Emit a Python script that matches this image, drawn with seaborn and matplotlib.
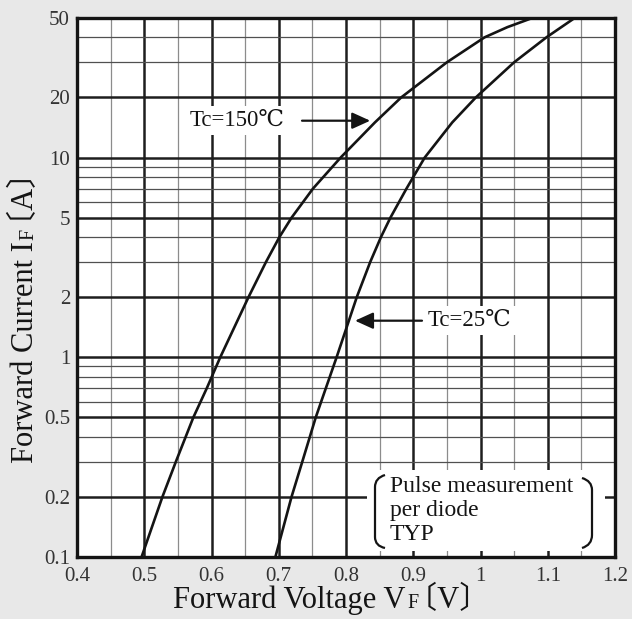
import numpy as np
import pandas as pd
import matplotlib
matplotlib.use("Agg")
import matplotlib.pyplot as plt
import seaborn as sns
from matplotlib.path import Path
from matplotlib.patches import PathPatch, Rectangle
from matplotlib.ticker import NullFormatter

# --- data ---
current_150 = [0.1, 0.2, 0.3, 0.5, 0.7, 1, 2, 3, 4, 5, 7, 10, 15, 20, 30, 40, 45, 50]
voltage_150 = [0.496, 0.527, 0.547, 0.573, 0.593, 0.613, 0.655, 0.681, 0.701, 0.719,
               0.751, 0.792, 0.843, 0.882, 0.950, 1.006, 1.040, 1.077]

current_25 = [0.1, 0.2, 0.3, 0.5, 0.7, 1, 2, 3, 4, 5, 7, 10, 15, 20, 30, 40, 50]
voltage_25 = [0.695, 0.719, 0.735, 0.755, 0.770, 0.786, 0.816, 0.836, 0.852, 0.866,
              0.890, 0.917, 0.958, 0.993, 1.050, 1.098, 1.140]

x_major = [0.4, 0.5, 0.6, 0.7, 0.8, 0.9, 1.0, 1.1, 1.2]
x_major_labels = ["0.4", "0.5", "0.6", "0.7", "0.8", "0.9", "1", "1.1", "1.2"]
x_minor = [0.45, 0.55, 0.65, 0.75, 0.85, 0.95, 1.05, 1.15]

y_major = [0.1, 0.2, 0.5, 1, 2, 5, 10, 20, 50]
y_major_labels = ["0.1", "0.2", "0.5", "1", "2", "5", "10", "20", "50"]
y_minor = [0.3, 0.4, 0.6, 0.7, 0.8, 0.9, 3, 4, 6, 7, 8, 9, 30, 40]

label_150 = "Tc=150℃"
label_25 = "Tc=25℃"
note_text = "Pulse measurement\nper diode\nTYP"

# --- style ---
SERIF = ["Liberation Serif", "DejaVu Serif", "Noto Sans CJK JP"]
INK = "#141414"
W, H = 632, 619

sns.set_style("white")
plt.rcParams["font.family"] = SERIF


def px_to_axes(px, py):
    # reference-image pixel -> axes fraction
    return (px - 77) / 538, (557 - py) / 539


def draw_label(fig, x0, y0, pieces, vertical=False):
    """Write a label made of pieces of different sizes, side by side.
    x0, y0 are figure pixels (from bottom-left) of the start of the baseline."""
    renderer = fig.canvas.get_renderer()
    pos = 0.0
    for text, size, kern in pieces:
        pos += kern
        probe = fig.text(0, 0, text, fontsize=size)
        w = probe.get_window_extent(renderer).width
        probe.remove()
        if vertical:
            fig.text(x0 / W, (y0 + pos) / H, text, fontsize=size, rotation=90,
                     rotation_mode="anchor", ha="left", va="baseline", color=INK)
        else:
            fig.text((x0 + pos) / W, y0 / H, text, fontsize=size,
                     ha="left", va="baseline", color=INK)
        pos += w


def bracket(ax, pts):
    verts = [px_to_axes(*p) for p in pts]
    codes = [Path.MOVETO, Path.CURVE3, Path.CURVE3, Path.LINETO, Path.CURVE3, Path.CURVE3]
    ax.add_patch(PathPatch(Path(verts, codes), transform=ax.transAxes, fc="none",
                           ec=INK, lw=1.6, zorder=4, capstyle="butt"))


def main():
    df = pd.concat([
        pd.DataFrame({"V": voltage_150, "I": current_150, "Tc": "150"}),
        pd.DataFrame({"V": voltage_25, "I": current_25, "Tc": "25"}),
    ])

    fig = plt.figure(figsize=(W / 100, H / 100), dpi=100, facecolor="#e8e8e8")
    ax = fig.add_axes([77 / W, 62 / H, 538 / W, 539 / H])
    ax.set_facecolor("white")

    sns.lineplot(data=df, x="V", y="I", hue="Tc", palette={"150": INK, "25": INK},
                 estimator=None, sort=False, legend=False, lw=1.9, ax=ax)
    for line in ax.get_lines():
        line.set_solid_joinstyle("round")

    ax.set_yscale("log")
    ax.set_xlim(0.4, 1.2)
    ax.set_ylim(0.1, 50)
    ax.set_xticks(x_major, x_major_labels)
    ax.set_xticks(x_minor, minor=True)
    ax.set_yticks(y_major, y_major_labels)
    ax.set_yticks(y_minor, minor=True)
    ax.yaxis.set_minor_formatter(NullFormatter())
    ax.set_xlabel("")
    ax.set_ylabel("")

    ax.set_axisbelow(True)
    ax.grid(axis="x", which="major", color="#1e1e1e", lw=1.8)
    ax.grid(axis="y", which="major", color="#1e1e1e", lw=1.8)
    ax.grid(axis="x", which="minor", color="#8c8c8c", lw=0.9)
    ax.grid(axis="y", which="minor", color="#505050", lw=0.9)
    ax.tick_params(which="both", length=0, labelsize=15, labelcolor="#333333")
    ax.tick_params(axis="y", pad=5)
    ax.tick_params(axis="x", pad=7)
    for s in ax.spines.values():
        s.set_linewidth(2.4)
        s.set_color(INK)
        s.set_zorder(5)

    # curve labels with arrows
    arrow = dict(arrowstyle="-|>,head_length=1.1,head_width=0.5", color=INK, lw=1.6,
                 shrinkA=0, shrinkB=0)
    ax.annotate("", xy=(0.836, 15.3), xytext=(0.7346, 15.3), arrowprops=arrow, zorder=4)
    ax.text(0.568, 15.3, label_150, fontsize=16.5, ha="left", va="center", color=INK,
            bbox=dict(fc="white", ec="none", pad=3), zorder=3)
    ax.annotate("", xy=(0.8134, 1.525), xytext=(0.913, 1.525), arrowprops=arrow, zorder=4)
    ax.text(0.922, 1.525, label_25, fontsize=16.5, ha="left", va="center", color=INK,
            bbox=dict(fc="white", ec="none", pad=3), zorder=3)

    # measurement note in a white box with brackets
    x0, y0 = px_to_axes(367, 551)
    x1, y1 = px_to_axes(605, 470)
    ax.add_patch(Rectangle((x0, y0), x1 - x0, y1 - y0, transform=ax.transAxes,
                           fc="white", ec="none", zorder=3))
    tx, ty = px_to_axes(390, 476)
    ax.text(tx, ty, note_text, transform=ax.transAxes, fontsize=17, ha="left", va="top",
            linespacing=1.2, color=INK, zorder=4)
    bracket(ax, [(385, 475), (375, 478), (375, 487), (375, 537), (375, 546), (385, 548)])
    bracket(ax, [(582, 478), (592, 481), (592, 490), (592, 535), (592, 545), (582, 548)])

    # axis titles with the small raised-cap F; the leading space keeps the
    # wide CJK bracket from shifting the rotated text
    draw_label(fig, 173, 11, [("Forward Voltage V", 22, 0), ("F", 14.5, 1.5),
                              (" 〔V〕", 22, -19)])
    draw_label(fig, 33, 156, [("Forward Current I", 22, 0), ("F", 14.5, 1.5),
                              (" 〔A〕", 22, -19)], vertical=True)

    fig.savefig("out.png", dpi=100, facecolor=fig.get_facecolor())
    plt.close(fig)


if __name__ == "__main__":
    main()
